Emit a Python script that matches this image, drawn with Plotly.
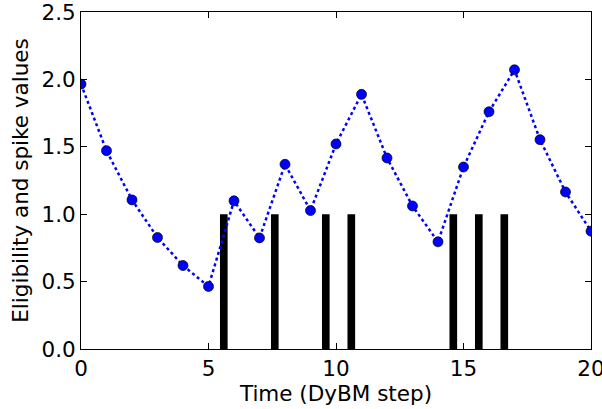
import plotly.graph_objects as go

steps = list(range(21))
eligibility = [1.965, 1.471, 1.106, 0.827, 0.619, 0.464, 1.099, 0.824, 1.370, 1.027,
               1.521, 1.889, 1.417, 1.061, 0.795, 1.350, 1.760, 2.071, 1.553, 1.165, 0.874]
spike_times = [5.6, 7.6, 9.6, 10.6, 14.6, 15.6, 16.6]
spike_values = [1, 1, 1, 1, 1, 1, 1]
x_ticks = [0, 5, 10, 15, 20]
y_ticks = [0.0, 0.5, 1.0, 1.5, 2.0, 2.5]

fig = go.Figure()
fig.add_trace(go.Bar(x=spike_times, y=spike_values, width=0.3,
                     marker=dict(color="black", line=dict(width=0))))
fig.add_trace(go.Scatter(x=steps, y=eligibility, mode="lines+markers",
                         line=dict(color="blue", width=2.5, dash="dot"),
                         marker=dict(size=10, color="blue", line=dict(color="black", width=0.7))))

font = dict(family="DejaVu Sans", size=21.5, color="black")
fig.update_layout(
    width=602, height=409,
    margin=dict(l=81, r=11, t=12, b=60, autoexpand=False),
    plot_bgcolor="white", paper_bgcolor="white",
    showlegend=False, font=font,
    xaxis=dict(range=[0, 20], tickvals=x_ticks, ticktext=[str(v) for v in x_ticks],
               ticks="inside", ticklen=6, tickcolor="black", showline=True, linecolor="black",
               linewidth=1, mirror="ticks", showgrid=False, zeroline=False, automargin=False,
               ticklabeloverflow="allow",
               title=dict(text="Time (DyBM step)", font=font, standoff=2)),
    yaxis=dict(range=[0, 2.5], tickvals=y_ticks, ticktext=[f"{v:.1f}" for v in y_ticks],
               ticks="inside", ticklen=6, tickcolor="black", showline=True, linecolor="black",
               linewidth=1, mirror="ticks", showgrid=False, zeroline=False, automargin=False,
               ticklabeloverflow="allow",
               title=dict(text="Eligibility and spike values", font=font, standoff=6)),
)
fig.write_html("out.html", config={"displayModeBar": False},
               post_script="document.body.style.margin='0';")
